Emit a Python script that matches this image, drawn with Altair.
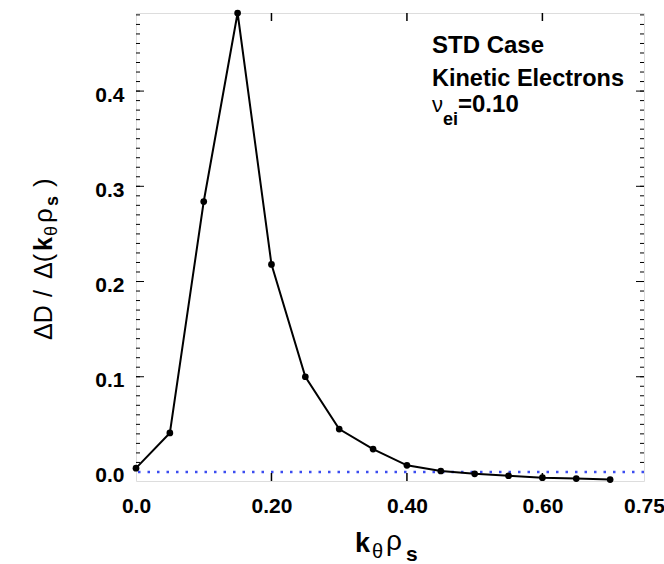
import altair as alt
import pandas as pd

# ---- data ----
k_rho = [0.00, 0.05, 0.10, 0.15, 0.20, 0.25, 0.30, 0.35, 0.40, 0.45, 0.50, 0.55, 0.60, 0.65, 0.70]
dD = [0.004, 0.041, 0.284, 0.482, 0.218, 0.100, 0.045, 0.024, 0.007, 0.001,
      -0.002, -0.004, -0.006, -0.007, -0.008]

x_tick_values = [0.0, 0.2, 0.4, 0.6, 0.75]
x_inner_ticks = [0.2, 0.4, 0.6]
y_tick_values = [0.0, 0.1, 0.2, 0.3, 0.4]
y_major_ticks = [0.1, 0.2, 0.3, 0.4]
y_minor_ticks = [round(i * 0.01, 2) for i in range(1, 49)]
zero_level = [0.0]

FONT = "Liberation Sans"
W, H = 508, 468

df = pd.DataFrame({"k": k_rho, "d": dD})
xs = alt.Scale(domain=[0, 0.75], nice=False, zero=False)
ys = alt.Scale(domain=[-0.0095, 0.482], nice=False, zero=False)

x_axis = alt.Axis(values=x_tick_values, ticks=False, domain=False, grid=False, title=None,
                  labelExpr="datum.value == 0 ? '0.0' : format(datum.value, '.2f')",
                  labelFont=FONT, labelFontSize=21, labelFontWeight="bold",
                  labelColor="black", labelPadding=14, labelFlush=False)
y_axis = alt.Axis(values=y_tick_values, format=".1f", ticks=False, domain=False, grid=False,
                  title=None, labelFont=FONT, labelFontSize=21, labelFontWeight="bold",
                  labelColor="black", labelPadding=12, labelOffset=4, labelFlush=False)

line = alt.Chart(df).mark_line(color="black", strokeWidth=2).encode(
    x=alt.X("k:Q", scale=xs, axis=x_axis),
    y=alt.Y("d:Q", scale=ys, axis=y_axis),
)
pts = alt.Chart(df).mark_point(filled=True, color="black", size=45, opacity=1).encode(
    x=alt.X("k:Q", scale=xs, axis=x_axis),
    y=alt.Y("d:Q", scale=ys, axis=y_axis),
)
zero = alt.Chart(pd.DataFrame({"z": zero_level})).mark_rule(
    color="#3b4cf0", strokeWidth=2.5, strokeDash=[2.5, 7]
).encode(y=alt.Y("z:Q", scale=ys, axis=y_axis))


def yticks(vals, x0, x1):
    return alt.Chart(pd.DataFrame({"v": vals})).mark_rule(color="black", strokeWidth=1).encode(
        y=alt.Y("v:Q", scale=ys, axis=y_axis), x=alt.value(x0), x2=alt.value(x1))


def xticks(vals, y0, y1):
    return alt.Chart(pd.DataFrame({"v": vals})).mark_rule(color="black", strokeWidth=1.5).encode(
        x=alt.X("v:Q", scale=xs, axis=x_axis), y=alt.value(y0), y2=alt.value(y1))


ticks = [
    yticks(y_minor_ticks, 0, 4), yticks(y_minor_ticks, W, W - 4),
    yticks(y_major_ticks, 0, 8), yticks(y_major_ticks, W, W - 8),
    xticks(x_inner_ticks, H, H - 8), xticks(x_inner_ticks, 0, 8),
]


def txt(s, x, y, size, bold=False, angle=0):
    return alt.Chart(pd.DataFrame({"t": [s]})).mark_text(
        font=FONT, fontSize=size, fontWeight="bold" if bold else "normal",
        align="left", baseline="alphabetic", angle=angle, color="black"
    ).encode(text="t:N", x=alt.value(x), y=alt.value(y))


texts = [
    # annotation
    txt("STD Case", 296, 40, 24, True),
    txt("Kinetic Electrons", 296, 73, 23.5, True),
    txt("ν", 296, 99, 22),
    txt("ei", 307, 112, 18, True),
    txt("=0.10", 322, 99, 24, True),
    # x title
    txt("k", 219, 538.7, 27, True),
    txt("θ", 236, 545, 20),
    txt("ρ", 250, 537, 28),
    txt("s", 270, 548, 21, True),
    # y title (rotated)
    txt("ΔD", -84.3, 327, 25, angle=270),
    txt("/", -84.3, 284, 25, angle=270),
    txt("Δ(", -84.3, 266, 25, angle=270),
    txt("k", -84.3, 238, 25, True, angle=270),
    txt("θ", -79.3, 223, 18, angle=270),
    txt("ρ", -84.3, 210, 26, angle=270),
    txt("s", -78, 193, 18, True, angle=270),
    txt(")", -84.3, 174, 26, angle=270),
]

chart = alt.layer(zero, *ticks, line, pts, *texts).properties(
    width=W, height=H,
    padding={"left": 136, "top": 13, "right": 20, "bottom": 83},
    autosize=alt.AutoSizeParams(type="none"),
).configure_view(stroke="black", strokeWidth=2).configure(background="white")

chart.save("out.html", embed_options={"renderer": "svg", "actions": False})
